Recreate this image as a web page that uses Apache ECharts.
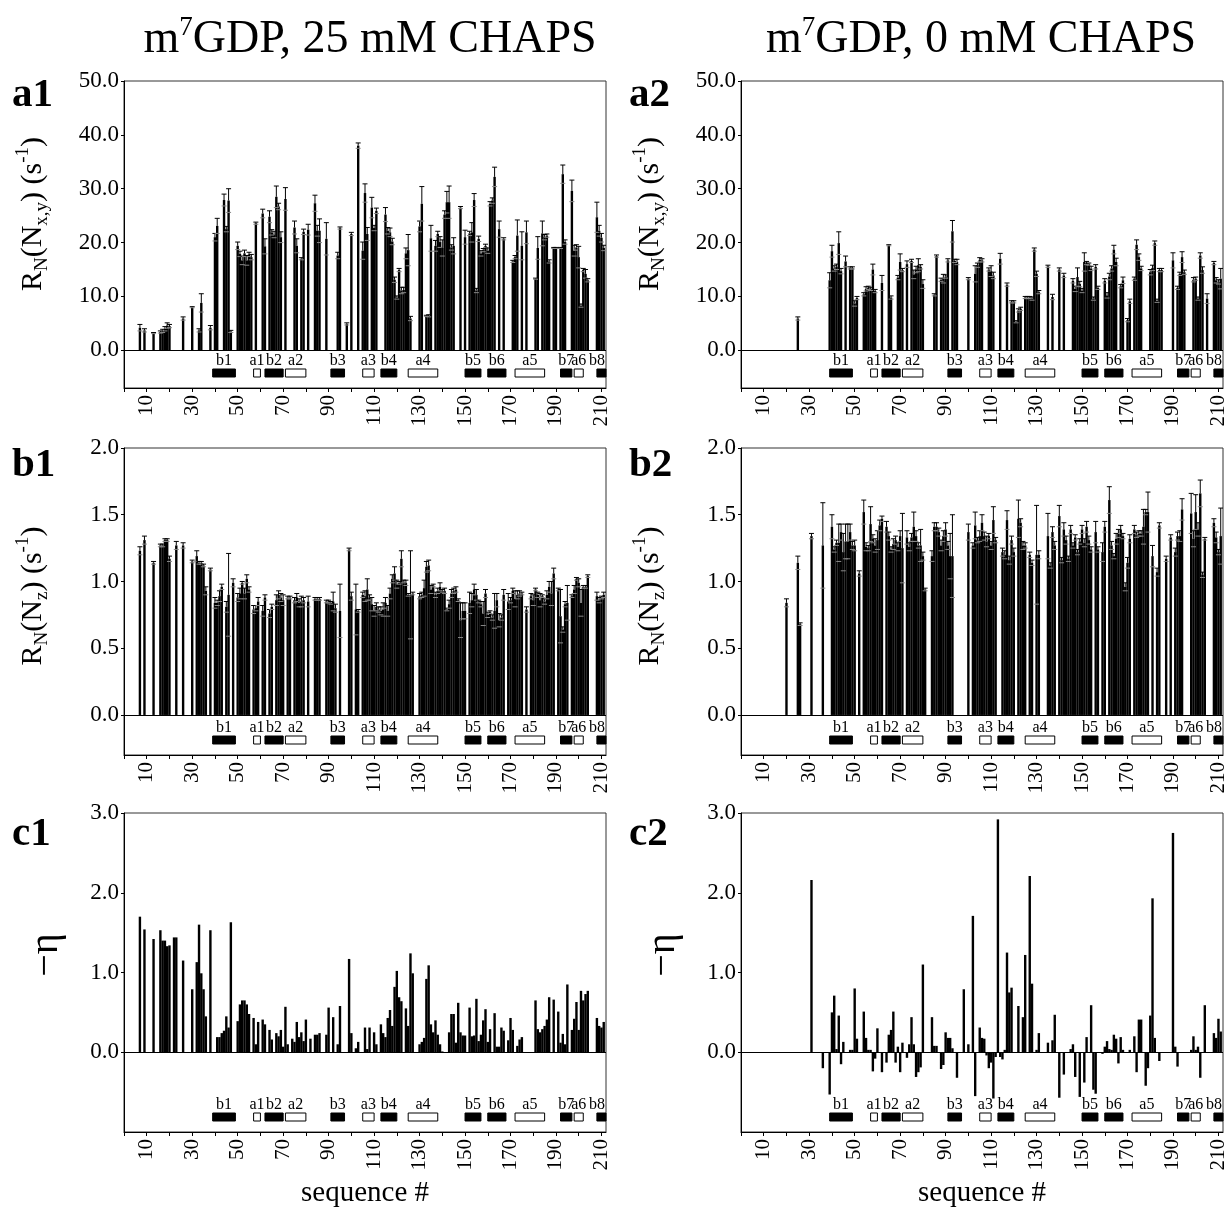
<!DOCTYPE html>
<html><head><meta charset="utf-8">
<script src="https://cdn.jsdelivr.net/npm/echarts@6/dist/echarts.min.js"></script>
<style>html,body{margin:0;padding:0;background:#fff}#c{width:1229px;height:1207px}</style>
</head><body><div id="c"></div>
<script>
// ---------------- DATA ----------------
const titles = ['m{p|7}GDP, 25 mM CHAPS', 'm{p|7}GDP, 0 mM CHAPS'];
const panelLabels = ['a1','a2','b1','b2','c1','c2'];
const xTickValues = [0,10,20,30,40,50,60,70,80,90,100,110,120,130,140,150,160,170,180,190,200,210];
const xLabelValues = [10,30,50,70,90,110,130,150,170,190,210];
const yTicksA = [0,10,20,30,40,50];
const yTicksB = [0,0.5,1.0,1.5,2.0];
const yTicksC = [0,1,2,3];

// secondary structure elements
const ssName  = ['b1','a1','b2','a2','b3','a3','b4','a4','b5','b6','a5','b7','a6','b8'];
const ssStart = [39,57,62,71,91,105,113,125,150,160,172,192,198,208];
const ssEnd   = [49,60,70,80,97,110,120,138,157,168,185,197,202,212];
const ssStrand= [1,0,1,0,1,0,1,0,1,1,0,1,0,1];

// a1: R_N(Nxy), 25 mM CHAPS
const a1Res = [7,9,13,16,17,18,19,20,26,30, 33,34,38,40,41,44,45,46,47,50, 51,52,53,54,55,56,58,61,62,64,
  65,66,67,68,69,71,75,76,78,79, 81,84,85,86,89,94,95,98,100,103, 105,106,107,109,110,111,115,116,117,118,
  119,120,121,122,123,124,125,126,130,131, 133,134,135,137,138,139,140,141,142,143, 144,145,148,150,152,153,154,155,156,157,
  158,159,160,161,162,163,165,167,171,172, 173,175,177,181,182,184,185,186,187,189, 190,192,193,194,197,198,199,200,201,202,
  203,204,208,209,210,211];
const a1Val = [4.2,3.7,3.2,3.4,3.6,4.0,4.6,4.5,5.9,8.0, 3.7,8.8,4.2,21.0,23.1,27.9,22.5,27.8,3.5,19.4, 17.9,16.7,18.0,16.7,17.8,17.3,23.6,25.4,19.3,24.8,
  21.9,21.5,28.5,26.7,21.0,28.1,22.8,19.4,17.0,22.0, 22.4,27.3,22.2,22.2,20.7,17.6,22.7,4.9,21.6,38.0, 18.5,29.2,21.6,26.5,22.7,25.9,25.2,22.2,21.9,20.2,
  13.1,9.8,14.9,11.1,11.2,18.0,18.6,5.9,23.0,27.2, 6.4,6.4,20.8,19.4,21.6,20.1,19.0,25.2,27.5,27.5, 19.1,19.4,26.5,21.0,21.7,21.9,27.9,11.1,20.7,18.0,
  18.6,19.4,18.5,27.2,27.8,32.2,22.5,20.7,16.5,17.3, 21.3,19.4,21.9,13.3,19.0,21.7,21.0,21.3,16.5,19.0, 19.0,19.0,32.7,20.1,29.6,18.5,19.1,17.3,8.3,14.9,
  14.2,13.0,24.7,22.2,20.9,19.0];
const a1Err = [0.6,0.3,0.1,0.2,0.3,0.4,0.5,0.3,0.3,0.1, 0.3,1.7,0.4,0.7,1.4,1.1,0.5,2.2,0.2,0.7, 0.5,0.8,0.6,0.9,0.4,0.5,0.2,0.8,1.4,1.1,
  0.5,0.6,2.0,0.6,1.0,2.1,1.2,1.3,0.2,0.5, 1.0,1.5,1.0,2.2,3.0,0.6,0.2,0.2,0.3,0.5, 1.6,1.7,1.2,1.9,0.5,0.5,1.3,0.6,0.8,0.6,
  0.5,0.3,0.3,0.6,0.5,1.0,2.9,0.4,1.0,3.2, 0.1,0.2,2.4,1.0,0.5,1.0,1.5,0.7,2.0,3.0, 0.5,1.5,0.2,1.3,0.4,1.8,1.2,0.4,0.5,0.5,
  0.3,0.3,0.5,0.4,0.5,1.8,1.5,0.2,0.2,0.3, 2.9,2.6,2.1,0.1,2.1,2.3,0.5,0.3,0.3,0.1, 0.1,0.1,1.7,0.4,2.0,1.0,0.5,2.0,0.3,0.3,
  0.8,0.3,2.8,1.0,0.8,0.5];

// a2: R_N(Nxy), 0 mM CHAPS
const a2Res = [25,39,40,41,42,43,44,46,48,49, 50,51,54,55,56,57,58,59,62,65, 66,69,70,71,73,75,76,77,78,79,
  80,85,86,88,89,90,91,93,94,95, 100,103,104,105,106,109,110,111,114,117, 119,120,121,122,123,125,126,127,128,129,
  130,131,135,137,140,142,146,147,148,149, 150,151,152,153,154,155,156,157,160,161, 162,163,164,165,167,168,170,171,173,174,
  175,176,180,181,182,183,184,185,190,192, 193,194,195,199,200,201,202,203,205,208, 209,210,211];
const a2Val = [5.9,13.0,18.4,15.2,15.5,19.9,14.7,16.5,15.3,15.3, 8.7,9.7,10.4,11.4,11.6,11.4,15.0,11.0,12.5,19.5, 9.8,13.5,16.4,14.9,16.0,16.6,14.1,15.0,15.8,15.5,
  12.3,10.3,17.5,13.1,13.3,13.7,16.7,22.1,16.6,16.4, 13.3,14.2,15.8,16.8,16.7,15.0,14.7,13.9,17.0,12.2, 9.0,9.0,5.3,7.4,7.7,9.8,9.8,9.8,9.6,18.7,
  14.2,10.8,15.6,9.9,15.0,13.9,12.9,11.4,13.6,12.3, 11.1,16.4,16.2,16.0,15.2,9.6,15.5,11.6,12.9,10.2, 13.7,15.2,18.7,16.4,11.9,13.0,5.6,9.1,13.3,19.6,
  17.3,15.2,14.5,15.3,19.9,9.2,14.9,14.9,16.7,11.6, 14.2,17.3,14.5,13.1,13.3,9.6,17.6,14.9,9.6,16.2, 13.0,12.7,13.3];
const a2Err = [0.3,1.4,1.1,0.5,0.5,2.1,0.5,1.0,0.2,0.2, 0.5,0.3,0.3,0.4,0.3,0.3,1.0,0.3,1.4,0.1, 0.3,0.4,1.5,0.3,0.6,0.3,0.8,0.6,1.2,0.4,
  0.8,0.2,0.2,0.3,0.8,0.3,0.3,2.0,0.3,0.5, 0.2,1.5,0.4,0.4,0.3,0.3,1.0,0.6,1.0,0.3, 0.2,0.2,0.2,0.3,0.3,0.2,0.2,0.2,0.3,0.3,
  0.5,0.3,0.2,0.5,0.3,0.4,0.4,0.5,1.7,0.5, 0.4,1.7,0.3,0.2,0.4,0.3,0.4,0.3,0.4,0.5, 0.6,0.5,0.8,0.7,0.3,0.6,0.3,0.4,0.3,0.9,
  0.6,0.4,0.5,0.5,0.4,0.3,0.3,0.3,1.4,0.3, 0.3,1.0,0.4,0.4,0.3,0.3,0.5,0.6,0.9,0.3, 0.5,0.4,1.9];

// b1: R_N(Nz), 25 mM CHAPS
const b1Res = [7,9,13,16,17,18,19,20,23,26, 30,32,33,34,35,36,38,40,41,42, 43,45,46,48,50,51,52,53,54,55,
  57,58,59,61,62,64,65,67,68,69, 70,72,73,75,76,77,78,79,81,84, 85,86,89,90,91,92,93,95,99,100,
  102,103,105,106,107,108,109,110,111,112, 113,114,115,116,117,118,119,120,121,122, 123,124,125,126,127,130,131,132,133,134,
  135,136,137,138,139,140,141,142,143,144, 145,146,147,148,149,150,152,153,154,155, 156,157,158,159,160,161,162,163,164,165,
  166,167,169,170,171,172,173,174,175,177, 179,180,181,182,183,184,185,186,187,188, 189,191,192,193,194,195,197,198,199,200,
  201,202,203,204,208,209,210,211];
const b1Val = [1.23,1.31,1.14,1.27,1.27,1.31,1.31,1.17,1.27,1.27, 1.15,1.19,1.14,1.14,1.12,0.93,1.09,0.84,0.84,0.89, 0.96,0.81,0.90,0.99,0.88,0.91,0.99,0.91,1.02,0.94,
  0.79,0.80,0.85,0.78,0.88,0.76,0.81,0.86,0.90,0.88, 0.86,0.88,0.88,0.86,0.88,0.84,0.85,0.86,0.85,0.87, 0.87,0.87,0.85,0.85,0.84,0.85,0.80,0.78,1.24,0.89,
  0.79,0.78,0.90,0.89,0.94,0.88,0.83,0.78,0.81,0.79, 0.78,0.79,0.84,0.78,0.91,1.02,1.06,0.98,0.99,1.17, 1.00,0.99,0.90,0.90,0.91,0.89,0.90,0.95,1.11,1.12,
  0.94,0.97,0.90,0.93,0.96,0.93,0.93,0.79,0.83,0.91, 0.93,0.94,0.86,0.71,0.78,0.78,0.84,0.86,0.94,0.90, 0.85,0.83,0.76,0.91,0.75,0.77,0.73,0.78,0.86,0.71,
  0.73,0.90,0.85,0.86,0.93,0.87,0.90,0.91,0.91,0.79, 0.89,0.86,0.94,0.90,0.86,0.89,0.85,0.90,0.96,0.91, 1.06,0.94,0.74,0.64,0.83,0.84,0.89,0.94,1.02,0.99,
  0.84,0.96,0.96,1.04,0.89,0.86,0.88,0.90];
const b1Err = [0.03,0.03,0.01,0.01,0.01,0.01,0.01,0.02,0.03,0.02, 0.01,0.04,0.01,0.01,0.01,0.03,0.01,0.04,0.02,0.04, 0.02,0.04,0.31,0.03,0.03,0.04,0.01,0.04,0.03,0.02,
  0.03,0.02,0.03,0.04,0.02,0.03,0.02,0.04,0.03,0.03, 0.04,0.01,0.01,0.02,0.03,0.03,0.04,0.02,0.04,0.01, 0.01,0.01,0.01,0.01,0.01,0.07,0.03,0.20,0.01,0.03,
  0.19,0.01,0.02,0.04,0.08,0.02,0.05,0.04,0.03,0.02, 0.03,0.05,0.04,0.04,0.04,0.03,0.05,0.03,0.01,0.06, 0.01,0.02,0.01,0.33,0.01,0.02,0.02,0.06,0.04,0.04,
  0.03,0.01,0.02,0.02,0.03,0.01,0.02,0.01,0.03,0.03, 0.02,0.02,0.01,0.13,0.06,0.06,0.08,0.05,0.04,0.04, 0.01,0.02,0.09,0.03,0.02,0.01,0.02,0.13,0.05,0.05,
  0.02,0.04,0.06,0.02,0.02,0.06,0.03,0.02,0.01,0.02, 0.02,0.04,0.01,0.02,0.05,0.01,0.02,0.03,0.04,0.09, 0.04,0.01,0.20,0.02,0.02,0.13,0.01,0.03,0.01,0.03,
  0.10,0.01,0.01,0.01,0.03,0.02,0.01,0.02];

// b2: R_N(Nz), 0 mM CHAPS
const b2Res = [20,25,26,31,36,40,41,42,43,44, 45,46,47,48,49,50,52,54,55,56, 57,58,59,60,61,62,64,65,66,67,
  68,69,70,71,73,74,75,76,77,78, 79,80,81,84,85,86,87,88,89,90, 91,92,93,100,102,103,104,105,106,107,
  108,109,110,111,112,115,116,117,118,119, 120,122,123,124,125,127,128,130,131,135, 136,137,138,140,141,142,143,144,145,146,
  147,148,149,150,151,152,153,154,156,157, 159,160,162,163,164,165,166,167,168,169, 170,171,173,174,175,176,177,178,179,181,
  183,184,187,189,191,192,193,194,198,199, 200,201,202,203,204,208,209,210,211];
const b2Val = [0.84,1.14,0.68,1.34,1.27,1.41,1.24,1.29,1.29,1.37, 1.22,1.30,1.30,1.37,1.27,1.27,1.06,1.52,1.26,1.25, 1.43,1.32,1.27,1.31,1.42,1.47,1.41,1.34,1.24,1.28,
  1.31,1.26,1.34,1.25,1.33,1.26,1.33,1.41,1.34,1.27, 1.27,1.19,0.94,1.19,1.41,1.41,1.37,1.27,1.34,1.39, 1.27,1.19,1.19,1.37,1.27,1.42,1.31,1.34,1.44,1.34,
  1.30,1.34,1.27,1.46,1.31,1.22,1.20,1.46,1.16,1.31, 1.22,1.47,1.44,1.27,1.27,1.20,1.14,1.20,1.20,1.34, 1.12,1.37,1.27,1.49,1.16,1.39,1.31,1.17,1.39,1.27,
  1.33,1.22,1.30,1.39,1.29,1.41,1.31,1.24,1.37,1.24, 1.22,1.41,1.61,1.27,1.19,1.32,1.36,1.39,1.34,0.96, 1.14,1.32,1.39,1.35,1.36,1.36,1.41,1.52,1.52,1.19,
  1.07,1.42,1.17,1.33,1.22,1.34,1.34,1.54,1.51,1.32, 1.52,1.39,1.66,1.05,1.32,1.44,1.33,1.22,1.34];
const b2Err = [0.03,0.05,0.01,0.02,0.32,0.09,0.02,0.02,0.14,0.06, 0.14,0.13,0.13,0.06,0.03,0.04,0.02,0.09,0.03,0.02, 0.13,0.03,0.05,0.07,0.04,0.02,0.04,0.03,0.02,0.04,
  0.03,0.03,0.04,0.26,0.05,0.03,0.03,0.11,0.04,0.02, 0.12,0.03,0.01,0.04,0.03,0.03,0.03,0.04,0.04,0.05, 0.03,0.17,0.31,0.06,0.02,0.10,0.02,0.04,0.06,0.03,
  0.04,0.02,0.03,0.10,0.02,0.03,0.03,0.07,0.03,0.03, 0.03,0.14,0.03,0.03,0.02,0.02,0.02,0.37,0.03,0.17, 0.02,0.04,0.03,0.08,0.02,0.05,0.03,0.02,0.03,0.02,
  0.02,0.02,0.02,0.03,0.03,0.04,0.03,0.02,0.08,0.02, 0.07,0.04,0.10,0.03,0.02,0.04,0.03,0.03,0.02,0.03, 0.04,0.03,0.03,0.02,0.02,0.02,0.13,0.02,0.15,0.08,
  0.03,0.02,0.02,0.02,0.03,0.03,0.04,0.08,0.15,0.06, 0.13,0.05,0.10,0.02,0.01,0.03,0.04,0.02,0.21];

// c1: -eta, 25 mM CHAPS
const c1Res = [7,9,13,16,17,18,19,20,22,23, 26,30,32,33,34,35,36,38,41,42, 43,44,45,46,47,50,51,52,53,54,
  55,57,58,59,61,62,64,65,67,68, 69,70,71,72,74,75,76,77,78,79, 80,82,84,85,86,89,90,92,94,95,
  99,100,102,103,106,107,108,110,111,113, 114,115,116,117,118,119,120,121,122,124, 125,126,127,130,131,132,133,134,135,136,
  137,138,139,140,143,144,145,146,147,148, 149,150,152,153,154,155,156,157,158,159, 160,161,163,164,165,166,167,169,170,171,
  173,174,175,181,182,183,184,185,186,187, 189,191,192,193,194,195,197,198,199,200, 201,202,203,204,208,209,210,211];
const c1Val = [1.70,1.54,1.42,1.53,1.40,1.40,1.33,1.34,1.44,1.44, 1.15,0.79,1.13,1.60,0.99,0.79,0.45,1.53,0.19,0.19, 0.24,0.27,0.45,0.31,1.63,0.39,0.60,0.65,0.65,0.60,
  0.48,0.43,0.10,0.38,0.41,0.35,0.28,0.16,0.24,0.20, 0.28,0.07,0.57,0.10,0.17,0.13,0.38,0.19,0.25,0.14, 0.41,0.17,0.22,0.22,0.24,0.22,0.56,0.44,0.10,0.58,
  1.17,0.24,0.05,0.13,0.31,0.04,0.31,0.25,0.10,0.35, 0.24,0.19,0.43,0.53,0.33,0.82,1.02,0.69,0.64,0.55, 0.33,1.24,0.99,0.10,0.13,0.18,0.92,1.09,0.35,0.25,
  0.40,0.22,0.10,0.01,0.25,0.48,0.48,0.12,0.62,0.25, 0.21,0.21,0.56,0.20,0.21,0.67,0.14,0.22,0.40,0.54, 0.13,0.29,0.49,0.07,0.07,0.31,0.27,0.15,0.43,0.28,
  0.08,0.16,0.19,0.65,0.29,0.25,0.29,0.33,0.41,0.69, 0.66,0.51,0.12,0.23,0.10,0.85,0.28,0.42,0.63,0.28, 0.77,0.65,0.73,0.77,0.43,0.33,0.31,0.38];

// c2: -eta, 0 mM CHAPS
const c2Res = [31,36,39,40,41,42,43,44,45,48, 49,50,51,54,55,56,57,58,59,60, 62,64,65,66,67,68,69,70,71,73,
  74,75,76,77,78,79,80,84,85,86, 88,89,90,91,92,93,95,98,100,102, 103,105,106,107,108,109,110,111,112,113,
  114,115,116,117,118,119,122,124,125,127, 128,130,131,135,137,138,140,142,145,146, 147,149,151,152,154,155,156,159,160,161,
  162,163,164,165,166,167,168,171,173,174, 175,176,178,179,180,181,182,184,190,191, 192,198,199,200,201,202,204,208,209,210,
  211];
const c2Val = [2.16,-0.20,-0.53,0.50,0.71,0.04,0.46,-0.15,0.13,0.03, 0.03,0.80,0.17,0.51,0.18,0.03,0.03,-0.24,-0.08,0.30, -0.25,-0.13,0.22,0.28,0.51,-0.13,0.07,-0.25,0.12,-0.07,
  0.10,0.44,0.10,-0.31,-0.25,-0.19,1.10,0.44,0.08,0.08, -0.21,-0.16,0.25,0.18,0.18,0.05,-0.32,0.79,0.10,1.71, -0.55,0.31,0.18,0.17,-0.04,-0.20,-0.13,-0.58,-0.06,2.92,
  -0.06,-0.09,0.03,1.25,0.75,0.81,0.58,0.44,1.22,2.21, 0.86,0.03,0.24,0.12,0.15,0.47,-0.57,-0.28,0.04,0.10, -0.31,-0.56,-0.38,0.19,0.59,-0.47,-0.52,-0.02,0.07,0.14,
  0.04,0.03,0.22,0.17,-0.14,0.19,0.03,0.03,0.20,-0.25, 0.41,0.41,-0.42,-0.20,0.46,1.93,0.18,-0.11,2.75,0.07, -0.18,0.03,0.20,0.03,0.07,-0.32,0.59,0.24,0.18,0.42,
  0.26];

// ---------------- CHART ----------------
const FONT = '"Liberation Serif", "Times New Roman", serif';
const chart = echarts.init(document.getElementById('c'), null, {renderer: 'canvas'});

const gridsPos = [
  {left:124, top:81,  width:482, height:307},
  {left:741, top:81,  width:482, height:307},
  {left:124, top:448, width:482, height:307},
  {left:741, top:448, width:482, height:307},
  {left:124, top:813, width:482, height:319},
  {left:741, top:813, width:482, height:319}
];
const panelRes = [a1Res,a2Res,b1Res,b2Res,c1Res,c2Res];
const panelVal = [a1Val,a2Val,b1Val,b2Val,c1Val,c2Val];
const panelErr = [a1Err,a2Err,b1Err,b2Err,null,null];
const rowRange = [[-7,50],[-0.3,2.0],[-1,3]];
const rowTicks = [yTicksA,yTicksB,yTicksC];

const nameRich = {
  n: {fontFamily: FONT, fontSize: 30, lineHeight: 38, fill: '#000', verticalAlign: 'middle'},
  s: {fontFamily: FONT, fontSize: 19, lineHeight: 16, fill: '#000', verticalAlign: 'bottom'},
  p: {fontFamily: FONT, fontSize: 19, lineHeight: 16, fill: '#000', verticalAlign: 'top'},
  e: {fontFamily: FONT, fontSize: 40, lineHeight: 44, fill: '#000'}
};
const rowNames = [
  '{n|R}{s|N}{n|(N}{s|x,y}{n|) (s}{p|-1}{n|)}',
  '{n|R}{s|N}{n|(N}{s|z}{n|) (s}{p|-1}{n|)}',
  '{e|\u2212\u03B7}'
];

function renderErr(params, api) {
  const x = api.value(0), v = api.value(1), e = api.value(2);
  const t = api.coord([x, v + e]);
  const m = api.coord([x, v]);
  const l = api.coord([x, v - e]);
  const hw = 2.5;
  return {type: 'group', children: [
    {type: 'line', shape: {x1: t[0], y1: m[1], x2: t[0], y2: t[1]}, style: {stroke: '#000', lineWidth: 1}},
    {type: 'line', shape: {x1: t[0]-hw, y1: t[1], x2: t[0]+hw, y2: t[1]}, style: {stroke: '#000', lineWidth: 1}},
    {type: 'line', shape: {x1: l[0]-hw, y1: l[1], x2: l[0]+hw, y2: l[1]}, style: {stroke: '#888', lineWidth: 1}}
  ]};
}
function renderSS(params, api) {
  const cs = params.coordSys;
  const p1 = api.coord([api.value(0), 0]);
  const p2 = api.coord([api.value(1), 0]);
  const x1 = Math.max(p1[0], cs.x), x2 = Math.min(p2[0], cs.x + cs.width);
  const bottom = cs.y + cs.height;
  const filled = api.value(2) === 1;
  const cx = Math.min((x1 + x2) / 2, cs.x + cs.width - 9);
  return {type: 'group', children: [
    {type: 'rect', shape: {x: x1, y: bottom - 19, width: x2 - x1, height: 8},
     style: {fill: filled ? '#000' : '#fff', stroke: '#000', lineWidth: 1}},
    {type: 'text', x: cx, y: bottom - 27,
     style: {text: ssName[params.dataIndex], fill: '#000', fontFamily: FONT, fontSize: 16, align: 'center', verticalAlign: 'middle'}}
  ]};
}

const grid = [], xAxis = [], yAxis = [], series = [];
for (let i = 0; i < 6; i++) {
  const row = Math.floor(i / 2);
  grid.push(Object.assign({show: true, borderColor: '#333', borderWidth: 1, containLabel: false}, gridsPos[i]));
  xAxis.push({
    type: 'value', gridIndex: i, min: 0, max: 212,
    axisLine: {show: true, onZero: false, lineStyle: {color: '#000', width: 1}},
    axisTick: {show: true, length: 4, customValues: xTickValues, lineStyle: {color: '#000'}},
    axisLabel: {show: true, customValues: xLabelValues, rotate: 90, margin: 7, fontFamily: FONT, fontSize: 21, color: '#000'},
    splitLine: {show: false}
  });
  yAxis.push({
    type: 'value', gridIndex: i, min: rowRange[row][0], max: rowRange[row][1],
    axisLine: {show: true, lineStyle: {color: '#000', width: 1}},
    axisTick: {show: true, length: 3, customValues: rowTicks[row], lineStyle: {color: '#000'}},
    axisLabel: {customValues: rowTicks[row], formatter: v => v.toFixed(1), fontFamily: FONT, fontSize: 23, color: '#000', margin: 5},
    splitLine: {show: false}
  });
  const res = panelRes[i], val = panelVal[i], err = panelErr[i];
  series.push({
    type: 'bar', xAxisIndex: i, yAxisIndex: i, barWidth: 2.4, z: 2,
    data: res.map((r, k) => [r, val[k]]),
    itemStyle: {color: '#000'},
    markLine: {silent: true, symbol: 'none', label: {show: false}, animation: false,
      lineStyle: {color: '#000', width: 1, type: 'solid'}, data: [{yAxis: 0}]}
  });
  if (err) {
    series.push({
      type: 'custom', xAxisIndex: i, yAxisIndex: i, z: 3, clip: true,
      renderItem: renderErr, encode: {x: 0, y: 1},
      data: res.map((r, k) => [r, val[k], err[k]])
    });
  }
  series.push({
    type: 'custom', xAxisIndex: i, yAxisIndex: i, z: 4,
    renderItem: renderSS, encode: {x: [0, 1]},
    data: ssStart.map((s, k) => [s, ssEnd[k], ssStrand[k]])
  });
}

const graphic = [];
const titleRich = {
  n: {fontFamily: FONT, fontSize: 46, lineHeight: 52, fill: '#000'},
  p: {fontFamily: FONT, fontSize: 27, lineHeight: 26, fill: '#000', verticalAlign: 'top'}
};
[[370, 40], [981, 40]].forEach((p, k) => {
  graphic.push({type: 'text', x: p[0], y: p[1],
    style: {text: titles[k].replace(/^m/, '{n|m}').replace('}GDP', '}{n|GDP') + '}', rich: titleRich,
            align: 'center', verticalAlign: 'middle'}});
});
const labelPos = [[12, 95], [629, 95], [12, 465], [629, 465], [12, 834], [629, 834]];
labelPos.forEach((p, k) => {
  graphic.push({type: 'text', x: p[0], y: p[1],
    style: {text: panelLabels[k], fontFamily: FONT, fontSize: 41, fontWeight: 'bold', fill: '#000',
            align: 'left', verticalAlign: 'middle'}});
});
// rotated y-axis titles
const namePos = [[33, 214], [650, 214], [33, 596], [650, 596], [46, 955], [663, 955]];
namePos.forEach((p, k) => {
  const row = Math.floor(k / 2);
  graphic.push({type: 'text', x: p[0], y: p[1], rotation: Math.PI / 2,
    style: {text: rowNames[row], rich: nameRich, align: 'center', verticalAlign: 'middle'}});
});
[[365, 1193], [982, 1193]].forEach(p => {
  graphic.push({type: 'text', x: p[0], y: p[1],
    style: {text: 'sequence #', fontFamily: FONT, fontSize: 29, fill: '#000', align: 'center', verticalAlign: 'middle'}});
});

chart.setOption({animation: false, backgroundColor: '#fff', grid, xAxis, yAxis, series, graphic});
</script></body></html>
